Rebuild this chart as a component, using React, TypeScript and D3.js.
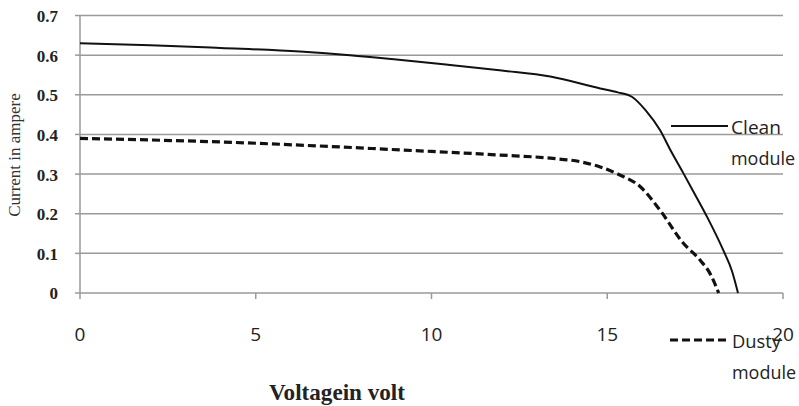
import React, { useEffect, useRef } from "react";
import * as d3 from "d3";

const cleanV = [0, 2, 4, 6.26, 7.68, 9, 10.53, 12, 13.38, 14.8, 15.3, 15.7, 16.1, 16.5, 16.8, 17.16, 17.5, 17.84, 18.3, 18.55, 18.72];
const cleanI = [0.63, 0.625, 0.618, 0.609, 0.6, 0.589, 0.575, 0.561, 0.546, 0.516, 0.506, 0.495, 0.46, 0.411, 0.36, 0.303, 0.248, 0.192, 0.108, 0.055, 0.0];
const dustyV = [0, 2, 4, 6.26, 9.1, 11.95, 13.38, 14.3, 14.8, 15.3, 15.94, 16.5, 17.16, 17.64, 17.95, 18.17];
const dustyI = [0.39, 0.386, 0.381, 0.373, 0.361, 0.348, 0.34, 0.33, 0.318, 0.3, 0.268, 0.209, 0.126, 0.083, 0.045, 0.0];
const xTicks = [0, 5, 10, 15, 20];
const yTicks = [0, 0.1, 0.2, 0.3, 0.4, 0.5, 0.6, 0.7];

export default function App() {
  const ref = useRef<SVGSVGElement>(null);
  useEffect(() => {
    const svg = d3.select(ref.current);
    svg.selectAll("*").remove();
    const x = d3.scaleLinear().domain([0, 20]).range([80, 783]);
    const y = d3.scaleLinear().domain([0, 0.7]).range([293, 15.5]);
    const grid = "#9a9a9a";

    svg.append("g").selectAll("line").data(yTicks.filter(t => t > 0)).join("line")
      .attr("x1", x(0)).attr("x2", x(20))
      .attr("y1", d => y(d)).attr("y2", d => y(d))
      .attr("stroke", grid).attr("stroke-width", 1.5);
    svg.append("g").selectAll("line").data(yTicks).join("line")
      .attr("x1", x(0) - 5).attr("x2", x(0))
      .attr("y1", d => y(d)).attr("y2", d => y(d))
      .attr("stroke", grid).attr("stroke-width", 1.5);
    svg.append("line").attr("x1", x(0)).attr("x2", x(0)).attr("y1", y(0.7)).attr("y2", y(0))
      .attr("stroke", grid).attr("stroke-width", 1.5);
    svg.append("line").attr("x1", x(0)).attr("x2", x(20)).attr("y1", y(0)).attr("y2", y(0))
      .attr("stroke", grid).attr("stroke-width", 1.5);
    svg.append("g").selectAll("line").data(xTicks).join("line")
      .attr("x1", d => x(d)).attr("x2", d => x(d))
      .attr("y1", y(0)).attr("y2", y(0) + 6)
      .attr("stroke", grid).attr("stroke-width", 1.5);

    svg.append("g").selectAll("text").data(yTicks).join("text")
      .attr("x", 58).attr("y", d => y(d)).attr("dy", "0.38em")
      .attr("text-anchor", "end")
      .attr("font-family", "Liberation Serif, serif").attr("font-weight", "bold")
      .attr("font-size", 17).attr("fill", "#222")
      .text(d => d === 0 ? "0" : d.toFixed(1));

    svg.append("g").selectAll("text").data(xTicks).join("text")
      .attr("x", d => x(d)).attr("y", 341)
      .attr("text-anchor", "middle")
      .attr("font-family", "Open Sans, sans-serif")
      .attr("font-size", 19).attr("fill", "#222")
      .text(d => String(d));

    const line = (vs: number[], is: number[]) =>
      d3.line<number>().x((_, i) => x(vs[i])).y((d) => y(d)).curve(d3.curveMonotoneX)(is);

    svg.append("path").attr("d", line(cleanV, cleanI) as string)
      .attr("fill", "none").attr("stroke", "#111").attr("stroke-width", 2);
    svg.append("path").attr("d", line(dustyV, dustyI) as string)
      .attr("fill", "none").attr("stroke", "#111").attr("stroke-width", 3.2)
      .attr("stroke-dasharray", "8,4");

    const lg = svg.append("g").attr("font-family", "Open Sans, sans-serif").attr("font-size", 19).attr("fill", "#222");
    lg.append("line").attr("x1", 671).attr("x2", 728).attr("y1", 126).attr("y2", 126)
      .attr("stroke", "#111").attr("stroke-width", 2);
    lg.append("text").attr("x", 731).attr("y", 134).attr("textLength", 50).attr("lengthAdjust", "spacingAndGlyphs").text("Clean");
    lg.append("text").attr("x", 731).attr("y", 165).attr("textLength", 64).attr("lengthAdjust", "spacingAndGlyphs").text("module");
    lg.append("line").attr("x1", 670).attr("x2", 728).attr("y1", 340).attr("y2", 340)
      .attr("stroke", "#111").attr("stroke-width", 3.2).attr("stroke-dasharray", "8,4");
    lg.append("text").attr("x", 732).attr("y", 348).attr("textLength", 49).attr("lengthAdjust", "spacingAndGlyphs").text("Dusty");
    lg.append("text").attr("x", 732).attr("y", 379).attr("textLength", 64).attr("lengthAdjust", "spacingAndGlyphs").text("module");

    svg.append("text").attr("x", 337).attr("y", 400).attr("text-anchor", "middle")
      .attr("font-family", "Liberation Serif, serif").attr("font-weight", "bold")
      .attr("font-size", 23).attr("fill", "#222")
      .attr("textLength", 136).attr("lengthAdjust", "spacingAndGlyphs")
      .text("Voltagein volt");
    svg.append("text").attr("transform", "translate(20,155) rotate(-90)")
      .attr("text-anchor", "middle")
      .attr("font-family", "Liberation Serif, serif")
      .attr("font-size", 17).attr("fill", "#333")
      .text("Current in ampere");
  }, []);
  return (
    <svg ref={ref} width={799} height={406}
      style={{ position: "absolute", left: 0, top: 0, background: "#fff" }} />
  );
}
